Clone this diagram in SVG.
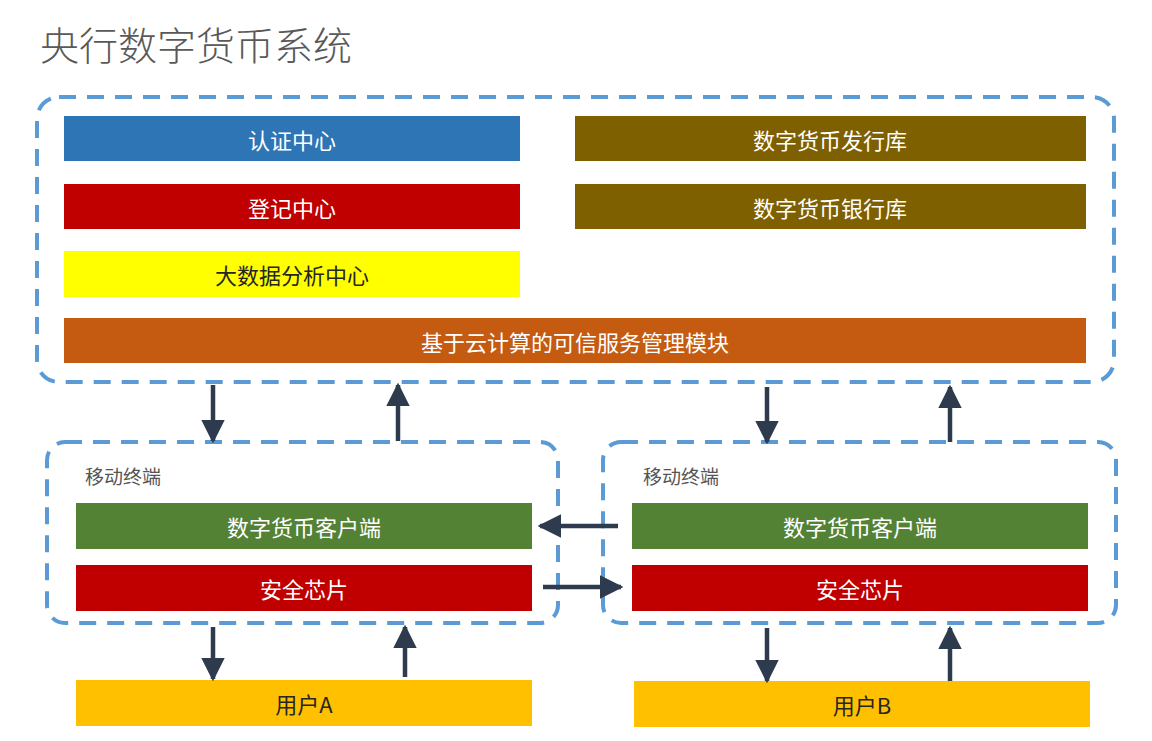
<svg xmlns="http://www.w3.org/2000/svg" width="1152" height="741" viewBox="0 0 1152 741">
<defs>
<style>
text{font-family:"Noto Sans CJK SC","Liberation Sans",sans-serif}
.frame{fill:none;stroke:#5B9BD5;stroke-width:4;stroke-dasharray:17 11}
.lbl{fill:#fff;font-size:22px;text-anchor:middle;dominant-baseline:central}
.dk{fill:#262626}
.conn{stroke:#2E3B4E;stroke-width:4.5;fill:none;marker-end:url(#ah)}
</style>
<marker id="ah" viewBox="0 0 10 10" refX="9" refY="5" markerWidth="5.2" markerHeight="5.2" orient="auto" markerUnits="strokeWidth">
<path d="M0,0 L10,5 L0,10 z" fill="#2E3B4E"/>
</marker>
</defs>
<rect width="1152" height="741" fill="#fff"/>
<text x="40" y="60" font-size="39" fill="#595959" font-weight="300">央行数字货币系统</text>

<g id="central-system">
<rect class="frame" x="37" y="97" width="1077" height="285" rx="22"/>
</g>
<g id="auth-center"><rect x="64" y="116" width="456" height="45" fill="#2E75B6"/><text class="lbl" x="292" y="138.5">认证中心</text></g>
<g id="register-center"><rect x="64" y="184" width="456" height="45" fill="#C00000"/><text class="lbl" x="292" y="206.5">登记中心</text></g>
<g id="bigdata-center"><rect x="64" y="251" width="456" height="46" fill="#FFFF00"/><text class="lbl dk" x="292" y="274">大数据分析中心</text></g>
<g id="issue-lib"><rect x="575" y="116" width="511" height="45" fill="#7F6000"/><text class="lbl" x="830" y="138.5">数字货币发行库</text></g>
<g id="bank-lib"><rect x="575" y="184" width="511" height="45" fill="#7F6000"/><text class="lbl" x="830" y="206.5">数字货币银行库</text></g>
<g id="cloud-module"><rect x="64" y="318" width="1022" height="45" fill="#C55A11"/><text class="lbl" x="575" y="340.5">基于云计算的可信服务管理模块</text></g>

<g id="terminal-a">
<rect class="frame" x="47" y="442" width="511" height="181" rx="18"/>
<text x="85" y="484" font-size="19" fill="#555">移动终端</text>
<rect x="76" y="503" width="456" height="46" fill="#548235"/><text class="lbl" x="304" y="526">数字货币客户端</text>
<rect x="76" y="565" width="456" height="46" fill="#C00000"/><text class="lbl" x="304" y="588">安全芯片</text>
</g>
<g id="terminal-b">
<rect class="frame" x="603" y="442" width="513" height="181" rx="18"/>
<text x="643" y="484" font-size="19" fill="#555">移动终端</text>
<rect x="632" y="503" width="456" height="46" fill="#548235"/><text class="lbl" x="860" y="526">数字货币客户端</text>
<rect x="632" y="565" width="456" height="46" fill="#C00000"/><text class="lbl" x="860" y="588">安全芯片</text>
</g>
<g id="user-a"><rect x="76" y="680" width="456" height="46" fill="#FFC000"/><text class="lbl dk" x="304" y="703">用户A</text></g>
<g id="user-b"><rect x="634" y="681" width="456" height="46" fill="#FFC000"/><text class="lbl dk" x="862" y="704">用户B</text></g>

<g id="connectors">
<line class="conn" x1="213" y1="385" x2="213" y2="441"/>
<line class="conn" x1="398" y1="441" x2="398" y2="385"/>
<line class="conn" x1="767" y1="387" x2="767" y2="442"/>
<line class="conn" x1="950" y1="442" x2="950" y2="387"/>
<line class="conn" x1="618" y1="526" x2="540" y2="526"/>
<line class="conn" x1="543" y1="587" x2="621" y2="587"/>
<line class="conn" x1="213" y1="627" x2="213" y2="679"/>
<line class="conn" x1="405" y1="677" x2="405" y2="627"/>
<line class="conn" x1="767" y1="628" x2="767" y2="681"/>
<line class="conn" x1="950" y1="681" x2="950" y2="628"/>
</g>
</svg>
